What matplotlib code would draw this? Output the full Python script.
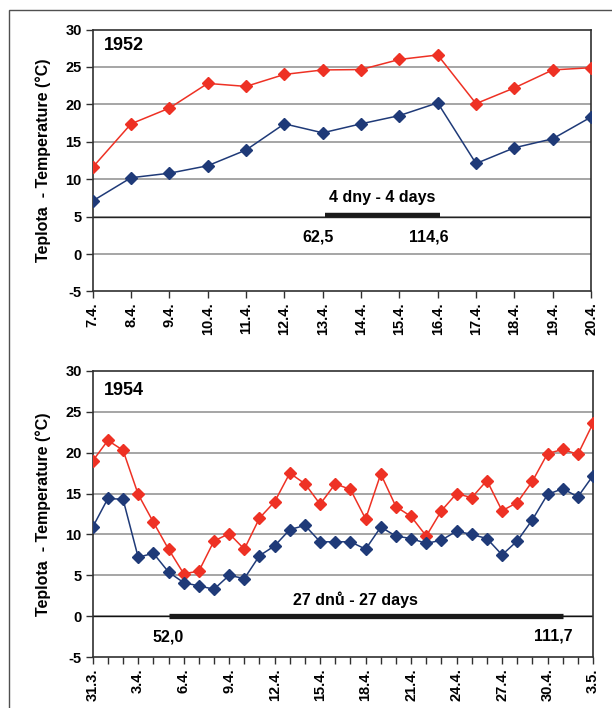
import matplotlib
matplotlib.use("Agg")
import matplotlib.pyplot as plt
from matplotlib.patches import Rectangle

plt.rcParams['font.family'] = ['Liberation Sans', 'DejaVu Sans']

# --- 1952 -------------------------------------------------------------
days_1952 = ["7.4.", "8.4.", "9.4.", "10.4.", "11.4.", "12.4.", "13.4.",
             "14.4.", "15.4.", "16.4.", "17.4.", "18.4.", "19.4.", "20.4."]
tmax_1952 = [11.6, 17.4, 19.5, 22.8, 22.4, 24.0, 24.6,
             24.65, 26.0, 26.6, 20.1, 22.2, 24.6, 24.9]
tmin_1952 = [7.1, 10.2, 10.8, 11.8, 13.9, 17.4, 16.2,
             17.4, 18.5, 20.2, 12.1, 14.2, 15.4, 18.3]
period_1952 = (6.07, 9.07)      # span of the 4-day period (index positions)
period_1952_level = 5.0
period_1952_text = "4 dny - 4 days"
period_1952_start_label = "62,5"
period_1952_end_label = "114,6"

# --- 1954 -------------------------------------------------------------
days_1954 = ["31.3."] + [f"{d}.4." for d in range(1, 31)] + ["1.5.", "2.5.", "3.5."]
tmax_1954 = [19.0, 21.5, 20.3, 14.9, 11.5, 8.2, 5.2, 5.5, 9.2, 10.1,
             8.2, 12.0, 14.0, 17.5, 16.2, 13.7, 16.2, 15.5, 11.9, 17.4,
             13.4, 12.2, 9.8, 12.9, 15.0, 14.5, 16.6, 12.9, 13.9, 16.5,
             19.9, 20.4, 19.8, 23.6]
tmin_1954 = [10.9, 14.4, 14.3, 7.2, 7.7, 5.4, 4.1, 3.7, 3.3, 5.0,
             4.6, 7.4, 8.6, 10.6, 11.1, 9.1, 9.1, 9.1, 8.2, 10.9,
             9.8, 9.5, 8.9, 9.3, 10.4, 10.0, 9.5, 7.5, 9.2, 11.8,
             14.9, 15.6, 14.6, 17.2]
period_1954 = (5.0, 31.0)
period_1954_level = 0.0
period_1954_text = "27 dnů - 27 days"
period_1954_start_label = "52,0"
period_1954_end_label = "111,7"

RED = "#ee3124"
BLUE = "#1f3a78"
GRID = "#9e9e9e"

fig = plt.figure(figsize=(6.12, 7.08), dpi=100)

# thin frame around the figure
fig.patches.append(Rectangle((9 / 612, -0.01), 1.0, 1 - 10 / 708 + 0.01,
                             transform=fig.transFigure, fill=False,
                             edgecolor="#505050", linewidth=1.0))


def style_axes(ax, n, ylabel):
    ax.set_xlim(0, n - 1)
    ax.set_ylim(-5, 30)
    ax.set_yticks(range(-5, 31, 5))
    ax.set_yticklabels([str(v) for v in range(-5, 31, 5)],
                       fontsize=10.5, fontweight="bold")
    for v in range(-5, 31, 5):
        if v in (-5, 30):
            continue
        ax.axhline(v, color=GRID, lw=1.3, zorder=1)
    for s in ax.spines.values():
        s.set_color("#303030")
        s.set_linewidth(1.2)
    ax.tick_params(axis="both", direction="out", length=5, width=1,
                   color="#303030", pad=3)
    ax.tick_params(axis="x", which="minor", direction="out", length=5,
                   width=1, color="#303030")
    ax.set_ylabel(ylabel, fontsize=11.5, fontweight="bold", labelpad=10)


def draw_series(ax, x, tmax, tmin):
    ax.plot(x, tmax, color=RED, lw=1.1, marker="D", ms=5.8,
            mec=RED, mfc=RED, zorder=4)
    ax.plot(x, tmin, color=BLUE, lw=1.1, marker="D", ms=5.8,
            mec=BLUE, mfc=BLUE, zorder=4)


ylabel = "Teplota  - Temperature (°C)"

# top panel: 1952
ax1 = fig.add_axes([0.1515, 0.5883, 0.8142, 0.3700])
x1 = list(range(len(days_1952)))
style_axes(ax1, len(days_1952), ylabel)
ax1.set_xticks(x1)
ax1.set_xticklabels(days_1952, rotation=90, fontsize=10.5, fontweight="bold")
draw_series(ax1, x1, tmax_1952, tmin_1952)
ax1.plot([0, len(days_1952) - 1], [period_1952_level] * 2,
         color="#222222", lw=1.0, zorder=2)
ax1.plot(period_1952, [period_1952_level + 0.2] * 2, color="#1a1a1a",
         lw=3.2, solid_capstyle="butt", zorder=3)
ax1.text(0.3, 27.9, "1952", fontsize=13, fontweight="bold", va="center")
ax1.text(7.56, 7.6, period_1952_text, fontsize=11.5, fontweight="bold",
         ha="center", va="center")
ax1.text(5.87, 2.3, period_1952_start_label, fontsize=11.5,
         fontweight="bold", ha="center", va="center")
ax1.text(8.78, 2.3, period_1952_end_label, fontsize=11.5,
         fontweight="bold", ha="center", va="center")

# bottom panel: 1954
ax2 = fig.add_axes([0.1515, 0.0720, 0.8175, 0.4040])
x2 = list(range(len(days_1954)))
style_axes(ax2, len(days_1954), ylabel)
ax2.set_xticks(x2[::3])
ax2.set_xticklabels(days_1954[::3], rotation=90, fontsize=10.5,
                    fontweight="bold")
ax2.set_xticks(x2, minor=True)
draw_series(ax2, x2, tmax_1954, tmin_1954)
ax2.plot([0, len(days_1954) - 1], [period_1954_level] * 2,
         color="#111111", lw=1.0, zorder=2)
ax2.plot(period_1954, [period_1954_level] * 2, color="#1a1a1a",
         lw=3.8, solid_capstyle="butt", zorder=3)
ax2.text(0.75, 27.6, "1954", fontsize=13, fontweight="bold", va="center")
ax2.text(17.3, 2.0, period_1954_text, fontsize=11.5, fontweight="bold",
         ha="center", va="center")
ax2.text(4.95, -2.6, period_1954_start_label, fontsize=11.5,
         fontweight="bold", ha="center", va="center")
ax2.text(30.4, -2.4, period_1954_end_label, fontsize=11.5,
         fontweight="bold", ha="center", va="center")

fig.savefig("out.png", dpi=100)
